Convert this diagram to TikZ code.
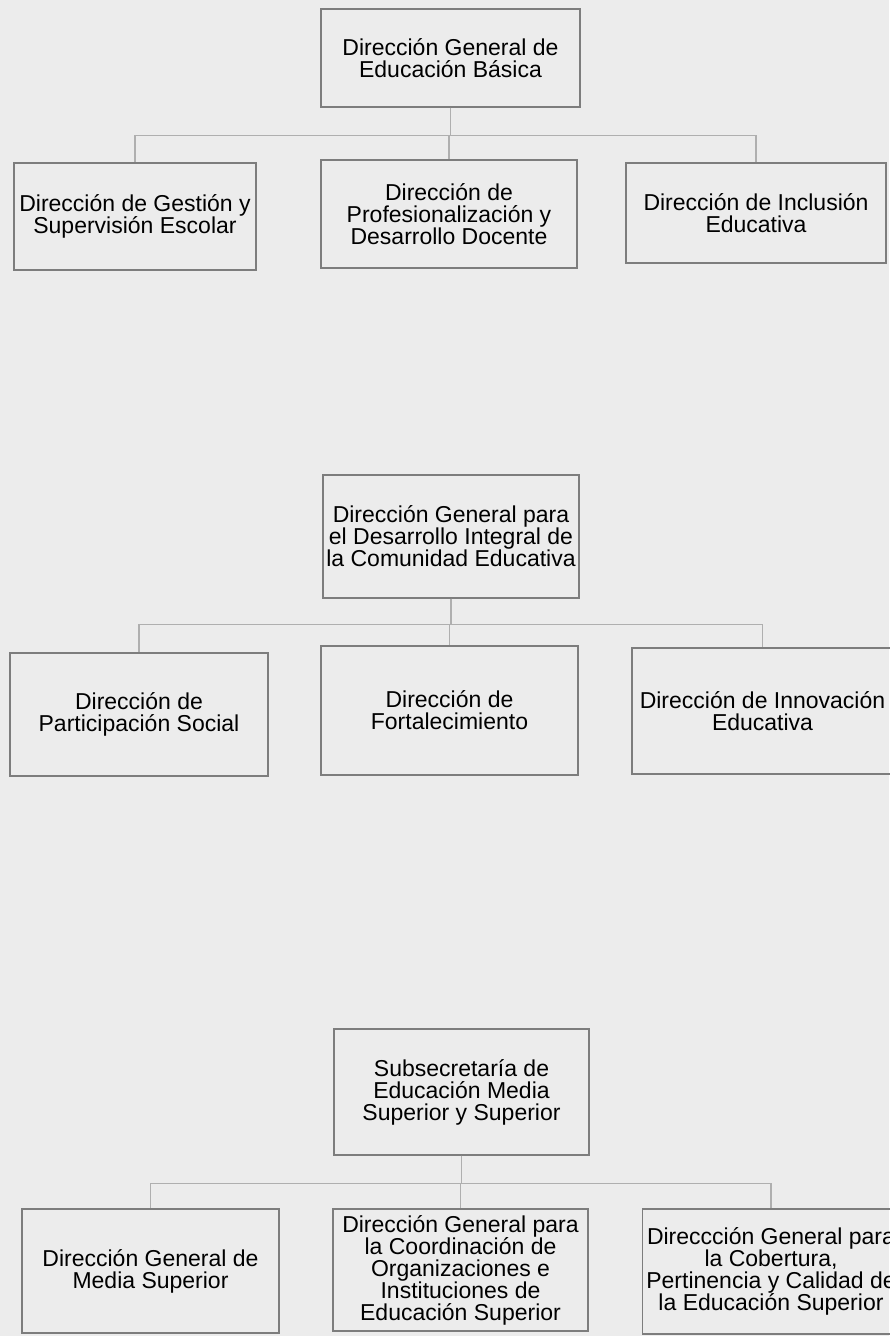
\documentclass[tikz,border=0pt]{standalone}
\usepackage{fontspec}
\setmainfont{Liberation Sans}
\definecolor{paper}{RGB}{236,236,236}
\definecolor{boxline}{RGB}{125,125,125}
\definecolor{busline}{RGB}{175,175,175}
\tikzset{
  orgbox/.style={draw=boxline, line width=1.3pt, align=center, inner sep=0pt,
    font=\fontsize{23}{22}\selectfont},
  bus/.style={draw=busline, line width=1.3pt}
}
\begin{document}
\begin{tikzpicture}[x=1pt,y=-1pt]
  \fill[paper] (0,0) rectangle (889,1336);
  \useasboundingbox (0,0) rectangle (889,1336);
  % Educacion Basica
  \node[orgbox, minimum width=259pt, minimum height=98pt] (dgeb) at (450.5,58)
    {Dirección General de\\Educación Básica};
  \node[orgbox, minimum width=242pt, minimum height=107pt] (dgse) at (135,216.5)
    {Dirección de Gestión y\\Supervisión Escolar};
  \node[orgbox, minimum width=256pt, minimum height=108pt] (dpdd) at (449,214)
    {Dirección de\\Profesionalización y\\Desarrollo Docente};
  \node[orgbox, minimum width=260pt, minimum height=100pt] (dincl) at (756,213)
    {Dirección de Inclusión\\Educativa};
  \foreach \c in {dgse,dpdd,dincl}
    \draw[bus] (dgeb.south) -- ++(0,28) -| (\c.north);
  % Desarrollo Integral de la Comunidad Educativa
  \node[orgbox, minimum width=256pt, minimum height=123pt] (dgdic) at (451,536.5)
    {Dirección General para\\el Desarrollo Integral de\\la Comunidad Educativa};
  \node[orgbox, minimum width=258pt, minimum height=123pt] (dps) at (139,714.5)
    {Dirección de\\Participación Social};
  \node[orgbox, minimum width=257pt, minimum height=129pt] (dfort) at (449.5,710.5)
    {Dirección de\\Fortalecimiento};
  \node[orgbox, minimum width=261pt, minimum height=126pt] (dinnov) at (762.5,711)
    {Dirección de Innovación\\Educativa};
  \foreach \c in {dps,dfort,dinnov}
    \draw[bus] (dgdic.south) -- ++(0,26) -| (\c.north);
  % Media Superior y Superior
  \node[orgbox, minimum width=255pt, minimum height=126pt] (sems) at (461.5,1092)
    {Subsecretaría de\\Educación Media\\Superior y Superior};
  \node[orgbox, minimum width=257pt, minimum height=124pt] (dgms) at (150.5,1271)
    {Dirección General de\\Media Superior};
  \node[orgbox, minimum width=255pt, minimum height=122pt] (dgcoies) at (460.5,1270)
    {Dirección General para\\la Coordinación de\\Organizaciones e\\Instituciones de\\Educación Superior};
  \node[orgbox, minimum width=257pt, minimum height=125pt] (dgcpc) at (771,1271.5)
    {Direccción General para\\la Cobertura,\\Pertinencia y Calidad de\\la Educación Superior};
  \foreach \c in {dgms,dgcoies,dgcpc}
    \draw[bus] (sems.south) -- ++(0,28) -| (\c.north);
\end{tikzpicture}
\end{document}
